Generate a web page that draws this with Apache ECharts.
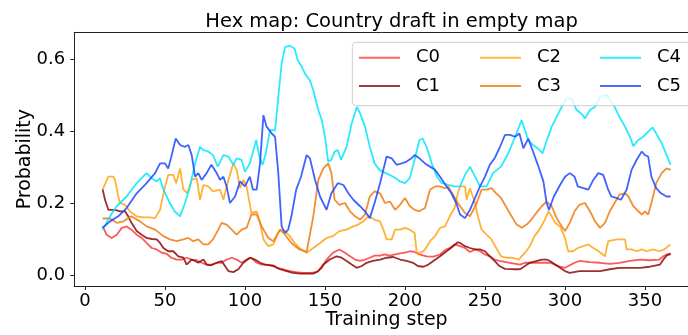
<!DOCTYPE html>
<html>
<head>
<meta charset="utf-8">
<script src="https://cdn.jsdelivr.net/npm/echarts@6/dist/echarts.min.js"></script>
<style>
  html, body { margin: 0; padding: 0; background: #fff; }
  #chart { width: 688px; height: 335px; }
</style>
</head>
<body>
<div id="chart"></div>
<script>
// values, [training step, probability]
const c0 = [[11,0.135],[13.5,0.112],[16.7,0.103],[19.8,0.112],[23,0.131],[26,0.135],[29,0.126],[32.3,0.112],[35.4,0.103],[38.5,0.089],[41.7,0.075],[44.8,0.071],[48,0.062],[51,0.059],[54,0.048],[57.3,0.043],[60.4,0.043],[63.5,0.048],[66.7,0.043],[69.8,0.041],[72.9,0.034],[76,0.029],[79,0.029],[82.3,0.034],[85.4,0.034],[88.5,0.043],[91.7,0.048],[94.8,0.043],[97.9,0.034],[101,0.043],[104,0.048],[107.3,0.034],[110.4,0.029],[113.5,0.029],[117.7,0.027],[119.8,0.020],[124,0.016],[128,0.011],[132,0.008],[136.5,0.006],[140.6,0.006],[145,0.008],[148,0.020],[151,0.043],[155,0.062],[159,0.071],[162.5,0.062],[165.6,0.052],[168.8,0.043],[171.9,0.039],[175,0.043],[178,0.048],[181,0.054],[184.4,0.054],[187.5,0.057],[190.6,0.054],[193.8,0.057],[196.9,0.060],[200,0.062],[203,0.066],[206,0.064],[209,0.057],[213.5,0.052],[217.7,0.051],[221.9,0.057],[225,0.069],[228,0.075],[231,0.085],[234.4,0.080],[237.5,0.075],[240.6,0.064],[243.8,0.071],[246.9,0.066],[250,0.057],[253,0.052],[256,0.043],[259,0.039],[265.6,0.034],[271.9,0.029],[275,0.034],[281,0.034],[290.6,0.034],[293.8,0.029],[296.9,0.023],[300,0.020],[303,0.027],[306,0.034],[309,0.039],[315.6,0.036],[321.9,0.034],[328,0.031],[334,0.034],[340.6,0.039],[346.9,0.043],[353,0.041],[359,0.043],[361.5,0.052],[363.5,0.057],[366,0.057]];

const c1 = [[11,0.238],[12.5,0.209],[14.6,0.181],[18.8,0.181],[21.9,0.177],[25,0.177],[27,0.163],[29,0.145],[32.3,0.122],[35.4,0.112],[38.5,0.103],[41.7,0.100],[44.8,0.099],[46.9,0.089],[49,0.075],[52,0.066],[55.2,0.066],[58.3,0.052],[61.5,0.048],[63.5,0.029],[66.7,0.043],[68.8,0.039],[70.8,0.034],[74,0.043],[76,0.029],[79,0.027],[82.3,0.034],[85.4,0.039],[87.5,0.025],[89.6,0.011],[92.7,0.008],[95.8,0.016],[99,0.034],[103,0.048],[106.3,0.043],[109.4,0.034],[112.5,0.029],[115.6,0.027],[118.8,0.023],[121.9,0.016],[126,0.011],[130,0.006],[134.4,0.004],[138.5,0.004],[142.7,0.004],[145.8,0.011],[149,0.029],[153,0.043],[157.3,0.052],[160.4,0.048],[163.5,0.039],[166.7,0.029],[169.8,0.020],[173,0.025],[176,0.034],[180,0.039],[184.4,0.043],[188.5,0.048],[192.7,0.050],[196.9,0.043],[201,0.039],[205,0.034],[208,0.025],[211.5,0.023],[214.6,0.029],[217.7,0.039],[221.9,0.052],[226,0.066],[230,0.080],[233,0.091],[234.4,0.089],[237.5,0.080],[240.6,0.075],[243.8,0.071],[246.9,0.071],[250,0.066],[253,0.052],[256,0.039],[259,0.025],[262.5,0.017],[268.8,0.016],[271.9,0.016],[275,0.025],[278,0.034],[285.4,0.043],[288.5,0.043],[290.6,0.039],[293.8,0.029],[296.9,0.020],[300,0.011],[303,0.006],[309,0.011],[321.9,0.011],[328,0.016],[334,0.020],[340.6,0.020],[346.9,0.020],[353,0.023],[359.4,0.029],[361.5,0.043],[363.5,0.054],[366,0.060]];

const c2 = [[11,0.237],[14.6,0.273],[17.7,0.273],[18.8,0.264],[20.8,0.218],[21.9,0.200],[25,0.195],[28,0.177],[32.3,0.163],[36.5,0.160],[40.6,0.160],[43.8,0.158],[46.9,0.181],[50,0.246],[52,0.278],[55.2,0.278],[57,0.255],[59.4,0.296],[61.5,0.237],[64,0.227],[66.7,0.264],[69.8,0.269],[71.9,0.209],[74,0.250],[77,0.246],[80,0.232],[84.4,0.237],[86.5,0.209],[89.6,0.264],[92.7,0.310],[94.8,0.292],[96.9,0.241],[99,0.264],[101,0.246],[104,0.172],[107.3,0.177],[109.4,0.145],[111.5,0.099],[114.6,0.080],[117.7,0.085],[120.8,0.117],[121.9,0.126],[125,0.122],[128,0.108],[131,0.089],[134,0.075],[138.5,0.062],[142.7,0.075],[146.9,0.089],[151,0.103],[155,0.108],[159,0.122],[163.5,0.126],[167.7,0.135],[170.8,0.140],[174,0.149],[177,0.163],[181,0.154],[184.4,0.149],[186.5,0.126],[188.5,0.099],[191.7,0.099],[193.8,0.126],[196.9,0.126],[200,0.131],[203,0.126],[206,0.117],[207.3,0.062],[210,0.062],[212.5,0.071],[215.6,0.094],[218.8,0.108],[221.9,0.131],[225,0.135],[228,0.163],[231,0.186],[233,0.227],[234.4,0.246],[237.5,0.246],[238.5,0.209],[240.6,0.241],[243.8,0.200],[245.8,0.158],[247.9,0.126],[251,0.112],[254,0.099],[257,0.075],[260,0.052],[263,0.048],[267,0.048],[271,0.043],[275,0.062],[278,0.080],[281,0.108],[284,0.126],[287.5,0.154],[289.6,0.177],[291.7,0.163],[293.8,0.145],[296.9,0.135],[300,0.103],[302,0.066],[305,0.066],[308,0.075],[311.5,0.080],[314.6,0.085],[317.7,0.075],[321,0.066],[325,0.052],[327,0.094],[330,0.097],[333,0.099],[337.5,0.099],[338.5,0.071],[341.6,0.071],[345,0.066],[348,0.071],[351,0.066],[355,0.071],[359,0.066],[362,0.071],[366,0.085]];

const c3 = [[11,0.157],[15.6,0.157],[19.8,0.145],[24,0.149],[29,0.163],[34.4,0.149],[38.5,0.135],[43.8,0.126],[49,0.108],[53,0.099],[57.3,0.094],[61.5,0.099],[64.6,0.103],[67.7,0.094],[70.8,0.099],[74,0.085],[77,0.085],[80,0.099],[83.3,0.126],[85.4,0.145],[88.5,0.140],[91.7,0.126],[94.8,0.112],[97.9,0.126],[101,0.131],[104,0.168],[107.3,0.168],[110.4,0.135],[114.6,0.103],[117.7,0.094],[121.9,0.126],[125,0.112],[129,0.089],[134,0.071],[138.5,0.064],[142.7,0.163],[145.8,0.264],[149,0.296],[152,0.310],[154,0.283],[156,0.209],[159,0.195],[162.5,0.200],[165.6,0.177],[168.8,0.163],[171.9,0.154],[175,0.168],[178,0.218],[181,0.232],[184.4,0.227],[187.5,0.200],[190.6,0.204],[193.8,0.181],[196.9,0.195],[200,0.214],[203,0.191],[206,0.181],[209,0.177],[212.5,0.186],[215.6,0.237],[218.8,0.246],[221.9,0.246],[225,0.241],[227,0.246],[230,0.223],[233,0.200],[237.5,0.172],[240.6,0.163],[244.8,0.200],[247.9,0.237],[251,0.237],[254,0.241],[257,0.227],[260,0.214],[263,0.191],[266.6,0.163],[269.8,0.140],[273,0.131],[276,0.140],[279,0.154],[282,0.172],[285.4,0.191],[288.5,0.204],[291.7,0.191],[294.8,0.158],[298,0.135],[300,0.122],[303,0.145],[306,0.177],[309,0.195],[312.5,0.200],[315.6,0.177],[318.8,0.149],[321.9,0.131],[325,0.145],[328,0.177],[331,0.200],[334,0.223],[337.5,0.227],[339.6,0.218],[342.7,0.191],[345.8,0.177],[348,0.168],[350,0.177],[352,0.168],[354,0.200],[357,0.255],[360.4,0.283],[363.5,0.296],[366,0.292]];

const c4 = [[11,0.126],[15.6,0.163],[19.8,0.191],[26,0.218],[32.3,0.255],[38.5,0.283],[41.7,0.269],[44.8,0.260],[46.9,0.269],[49,0.237],[53,0.200],[56,0.177],[59.4,0.163],[62.5,0.200],[65.6,0.246],[68.8,0.310],[71.9,0.356],[74,0.347],[77,0.343],[80,0.333],[83,0.301],[86.5,0.333],[89.6,0.329],[92.7,0.306],[94.8,0.324],[97.9,0.320],[100,0.287],[103,0.310],[107,0.375],[109,0.329],[111,0.306],[113,0.338],[115.6,0.402],[118.8,0.402],[120.8,0.494],[122.9,0.587],[125,0.633],[128,0.637],[129,0.642],[131,0.628],[133,0.596],[135,0.582],[137.5,0.559],[140.6,0.540],[142.7,0.513],[145.8,0.458],[148,0.430],[150,0.384],[152,0.315],[154,0.320],[156,0.343],[158,0.347],[160,0.320],[163.5,0.356],[166.7,0.421],[170,0.467],[172,0.448],[175,0.412],[178,0.356],[181,0.310],[184,0.292],[188,0.283],[192.7,0.273],[196.9,0.260],[200,0.255],[203,0.269],[206,0.320],[209,0.375],[211,0.379],[213.5,0.356],[216.7,0.310],[220,0.273],[223,0.255],[227,0.250],[231,0.246],[234.4,0.246],[237.5,0.278],[240.6,0.301],[243.8,0.273],[246.9,0.246],[251,0.246],[255,0.283],[260,0.301],[264.6,0.338],[268.8,0.384],[272.9,0.430],[275,0.402],[277,0.375],[280,0.361],[283,0.352],[286,0.338],[288,0.366],[291.7,0.412],[294.8,0.439],[297.9,0.467],[301,0.490],[304,0.490],[307.3,0.458],[310.4,0.448],[312.5,0.435],[315.6,0.458],[318.8,0.467],[321.9,0.495],[326,0.500],[329,0.480],[331,0.467],[334,0.439],[337.5,0.412],[340.6,0.384],[342.7,0.358],[345.8,0.375],[349,0.384],[352,0.398],[354.8,0.410],[357,0.393],[360.4,0.366],[363.5,0.333],[366,0.306]];

const c5 = [[11,0.131],[15.6,0.149],[20.8,0.163],[26,0.186],[32.3,0.227],[38.5,0.255],[43.8,0.283],[46.9,0.310],[50,0.310],[52,0.296],[54,0.329],[56.7,0.379],[59.4,0.361],[62.5,0.356],[64.6,0.361],[66.7,0.333],[68.8,0.273],[70.8,0.283],[72.9,0.264],[76,0.283],[79,0.306],[82.3,0.283],[84.4,0.264],[86.5,0.273],[88.5,0.246],[90.6,0.200],[93.8,0.218],[96.9,0.260],[100,0.246],[103,0.273],[105,0.237],[107.3,0.237],[109.4,0.310],[111.5,0.444],[113.5,0.412],[116.7,0.393],[118.8,0.384],[120.8,0.283],[122.9,0.135],[125,0.117],[127,0.126],[129,0.163],[132,0.237],[135,0.273],[138.5,0.333],[140.6,0.324],[143.8,0.264],[146.9,0.218],[151,0.181],[154,0.227],[158,0.255],[161.5,0.250],[164.6,0.227],[167.7,0.209],[171.9,0.191],[175,0.177],[178,0.158],[181,0.200],[184.4,0.255],[188.5,0.329],[191.7,0.324],[194.8,0.306],[198,0.310],[201,0.315],[204,0.324],[206,0.333],[209,0.324],[212.5,0.310],[215.6,0.301],[218.8,0.292],[221.9,0.273],[226,0.246],[229,0.227],[232,0.200],[234.4,0.168],[237.5,0.158],[240.6,0.181],[243.8,0.214],[246.9,0.246],[250,0.273],[253,0.306],[256,0.324],[259,0.352],[262.5,0.389],[265.6,0.389],[268.8,0.384],[271.5,0.393],[274,0.352],[277,0.379],[280,0.343],[283,0.306],[286.5,0.260],[288.5,0.200],[290,0.181],[293,0.218],[296.9,0.250],[300,0.273],[303,0.283],[306,0.273],[308,0.246],[311.5,0.241],[314.6,0.237],[317.7,0.264],[320.8,0.283],[323.9,0.278],[327,0.237],[329,0.218],[332,0.214],[335,0.209],[338.5,0.237],[341.6,0.292],[344.8,0.320],[348,0.343],[350,0.333],[352,0.329],[354,0.273],[357,0.241],[360,0.227],[363.5,0.218],[366,0.218]];

const seriesNames = ['C0', 'C1', 'C2', 'C3', 'C4', 'C5'];
const seriesData = [c0, c1, c2, c3, c4, c5];
const seriesColors = ['#ff3b3b', '#8b0a0a', '#ffa514', '#f07a12', '#00e8ff', '#1e46ff'];
const xTicks = [0, 50, 100, 150, 200, 250, 300, 350];
const yTicks = [0, 0.2, 0.4, 0.6];

const FONT = 'DejaVu Sans';
const AXIS_COLOR = '#222';
const chart = echarts.init(document.getElementById('chart'));

// matplotlib style legend: 3 columns x 2 rows, plain line swatches
const legendBase = {
  orient: 'vertical',
  top: 43.7,
  icon: 'rect',
  itemWidth: 41,
  itemHeight: 2,
  itemGap: 10.3,
  selectedMode: false,
  z: 20,
  itemStyle: { opacity: 0.8 },
  textStyle: { fontFamily: FONT, fontSize: 18, color: '#000', lineHeight: 18, padding: [0, 0, 0, 11] }
};

const option = {
  animation: false,
  backgroundColor: '#fff',
  title: {
    text: 'Hex map: Country draft in empty map',
    left: 386.6,
    top: 7,
    textAlign: 'center',
    textStyle: { fontFamily: FONT, fontSize: 19.5, fontWeight: 'normal', color: '#000' }
  },
  grid: {
    left: 74.2, right: -11, top: 32.3, bottom: 49,
    outerBoundsMode: 'none'
  },
  legend: [
    Object.assign({}, legendBase, { left: 354, data: ['C0', 'C1'] }),
    Object.assign({}, legendBase, { left: 475, data: ['C2', 'C3'] }),
    Object.assign({}, legendBase, { left: 595, data: ['C4', 'C5'] })
  ],
  graphic: [{
    type: 'rect',
    z: 10,
    shape: { x: 352.3, y: 42.3, width: 360, height: 63.4, r: 4 },
    style: { fill: 'rgba(255,255,255,0.8)', stroke: '#cccccc', lineWidth: 1 }
  }],
  xAxis: [{
    type: 'value',
    min: -6.75,
    max: 383.75,
    name: 'Training step',
    nameLocation: 'middle',
    nameGap: 25,
    nameMoveOverlap: false,
    nameTextStyle: { fontFamily: FONT, fontSize: 19, color: '#000' },
    axisLine: { show: true, onZero: false, lineStyle: { color: AXIS_COLOR, width: 1 } },
    axisTick: { show: true, length: 4, customValues: xTicks, lineStyle: { color: AXIS_COLOR } },
    axisLabel: { customValues: xTicks, margin: 6, fontFamily: FONT, fontSize: 18, color: '#000' },
    splitLine: { show: false }
  }, {
    // top spine only
    type: 'value',
    position: 'top',
    min: -6.75,
    max: 383.75,
    axisLine: { show: true, onZero: false, lineStyle: { color: AXIS_COLOR, width: 1 } },
    axisTick: { show: false },
    axisLabel: { show: false },
    splitLine: { show: false }
  }],
  yAxis: {
    type: 'value',
    min: -0.0305,
    max: 0.674,
    name: 'Probability',
    nameLocation: 'middle',
    nameGap: 40,
    nameMoveOverlap: false,
    nameTextStyle: { fontFamily: FONT, fontSize: 19, color: '#000' },
    axisLine: { show: true, onZero: false, lineStyle: { color: AXIS_COLOR, width: 1 } },
    axisTick: { show: true, length: 4, customValues: yTicks, lineStyle: { color: AXIS_COLOR } },
    axisLabel: {
      customValues: yTicks, margin: 9, fontFamily: FONT, fontSize: 18, color: '#000',
      formatter: v => v.toFixed(1)
    },
    splitLine: { show: false }
  },
  series: seriesNames.map((name, i) => ({
    name: name,
    type: 'line',
    data: seriesData[i],
    symbol: 'none',
    showSymbol: false,
    color: seriesColors[i],
    lineStyle: { width: 1.8, opacity: 0.85, color: seriesColors[i] },
    z: 2
  }))
};

chart.setOption(option);
</script>
</body>
</html>
